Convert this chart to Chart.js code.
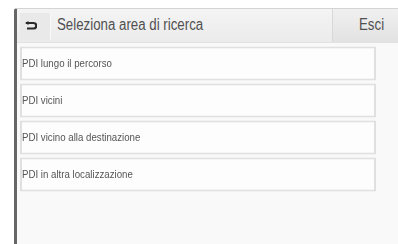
<!DOCTYPE html>
<html lang="it">
<head>
<meta charset="utf-8" />
<title>Seleziona area di ricerca</title>
<script src="https://cdn.jsdelivr.net/npm/chart.js@4.4.1/dist/chart.umd.min.js"></script>
<style>
  html, body { margin: 0; padding: 0; background: #fff; width: 398px; height: 244px; overflow: hidden; }
  body { position: relative; font-family: "Liberation Sans", Arial, sans-serif; }
  .frame { position: absolute; left: 14px; top: 8px; width: 400px; height: 240px; background: #f9f9f9;
    border-left: 3px solid #666; border-top: 1px solid #d4d4d4; border-top-left-radius: 3px; }
  .head { position: absolute; left: 17px; top: 9px; width: 381px; height: 33px;
    background: linear-gradient(#f4f4f4, #ebebeb); border-bottom: 1px solid #e2e2e2; }
  .back { position: absolute; left: 3px; top: 4px; width: 30px; height: 27px; background: #e9e9e9;
    border-right: 1px solid #f8f8f8; }
  .back svg { position: absolute; left: 5px; top: 8px; }
  .cond { display: inline-block; transform: scaleX(0.83); transform-origin: 0 50%; white-space: nowrap; }
  .title { position: absolute; left: 40px; top: 7px; font-size: 16px; color: #505050; }
  .esci { position: absolute; left: 315px; top: 0; width: 66px; height: 33px;
    background: linear-gradient(#f0f0f0, #e2e2e2); border-left: 1px solid #d8d8d8; }
  .esci span { position: absolute; left: 26px; top: 7px; font-size: 16px; color: #505050; }
  .rows { position: absolute; left: 20px; top: 45px; width: 356px; height: 148px; }
</style>
</head>
<body>
<div class="frame"></div>
<div class="head">
  <div class="back">
    <svg width="12" height="9" viewBox="0 0 12 9">
      <path d="M1 2 H8.5 A2.5 2.5 0 0 1 8.5 7.5 H2" fill="none" stroke="#2a2a2a" stroke-width="2.2"/>
      <path d="M0 2 L3.5 0 L3.5 4 Z" fill="#2a2a2a"/>
    </svg>
  </div>
  <div class="title"><span class="cond">Seleziona area di ricerca</span></div>
  <div class="esci"><span class="cond">Esci</span></div>
</div>
<div class="rows"><canvas id="menu"></canvas></div>
<script>
const menuItems = [
  "PDI lungo il percorso",
  "PDI vicini",
  "PDI vicino alla destinazione",
  "PDI in altra localizzazione"
];
// each entry fills the whole row
const rowFill = [1, 1, 1, 1];

const rowLabels = {
  id: "rowLabels",
  afterDatasetsDraw(chart) {
    const ctx = chart.ctx;
    const meta = chart.getDatasetMeta(0);
    ctx.save();
    ctx.font = '11px "Liberation Sans", Arial, sans-serif';
    ctx.fillStyle = "#555";
    ctx.textBaseline = "middle";
    meta.data.forEach(function (bar, i) {
      ctx.save();
      ctx.translate(bar.base + 2, bar.y);
      ctx.scale(0.88, 1); // narrow face like the screen font
      ctx.fillText(chart.data.labels[i], 0, 0);
      ctx.restore();
    });
    ctx.restore();
  }
};

new Chart(document.getElementById("menu"), {
  type: "bar",
  data: {
    labels: menuItems,
    datasets: [{
      data: rowFill,
      backgroundColor: "#fdfdfd",
      borderColor: "#e0e0e0",
      borderWidth: 2,
      borderSkipped: false,
      barPercentage: 0.92,
      categoryPercentage: 1
    }]
  },
  options: {
    indexAxis: "y",
    responsive: true,
    maintainAspectRatio: false,
    animation: false,
    layout: { padding: 0 },
    plugins: { legend: { display: false }, tooltip: { enabled: false } },
    scales: {
      x: { display: false, min: 0, max: 1 },
      y: { display: false }
    }
  },
  plugins: [rowLabels]
});
</script>
</body>
</html>
